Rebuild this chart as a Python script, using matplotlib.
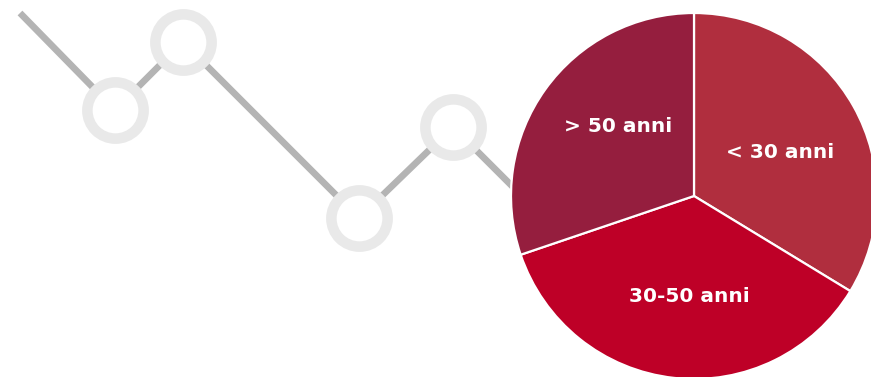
import matplotlib
matplotlib.use("Agg")
import matplotlib.pyplot as plt

# Decorative line data
line_x = [20, 115, 183, 359, 453, 560]
line_y = [364, 267, 335, 159, 250, 143]

# Pie data
categories = ["< 30 anni", "30-50 anni", "> 50 anni"]
shares = [33.7, 36.1, 30.2]
colors = ["#B02E3E", "#BE0027", "#951E3E"]

W, H = 871, 377
fig = plt.figure(figsize=(W / 100, H / 100), dpi=100)
ax = fig.add_axes([0, 0, 1, 1])
ax.set_xlim(0, W)
ax.set_ylim(0, H)
ax.set_aspect("equal")
ax.axis("off")

ax.plot(line_x, line_y, color="#B4B4B4", lw=4.8, solid_capstyle="butt", zorder=1)
ax.plot(line_x[1:5], line_y[1:5], linestyle="none", marker="o",
        markersize=40.5, markerfacecolor="white", markeredgecolor="#E9E9E9",
        markeredgewidth=7.6, zorder=2)

center = (694, 181)
radius = 183
wedges, _ = ax.pie(shares, colors=colors, startangle=90, counterclock=False,
                   center=center, radius=radius, frame=True,
                   wedgeprops=dict(edgecolor="white", linewidth=1.6))
for w in wedges:
    w.set_zorder(3)
ax.set_xlim(0, W)
ax.set_ylim(0, H)
ax.axis("off")

label_pos = {"< 30 anni": (780, 224), "30-50 anni": (689, 80), "> 50 anni": (618, 251)}
for c in categories:
    x, y = label_pos[c]
    ax.text(x, y, c, color="white", fontsize=14.5, fontweight="bold",
            family="DejaVu Sans", ha="center", va="center", zorder=4)

fig.savefig("out.png", dpi=100)
